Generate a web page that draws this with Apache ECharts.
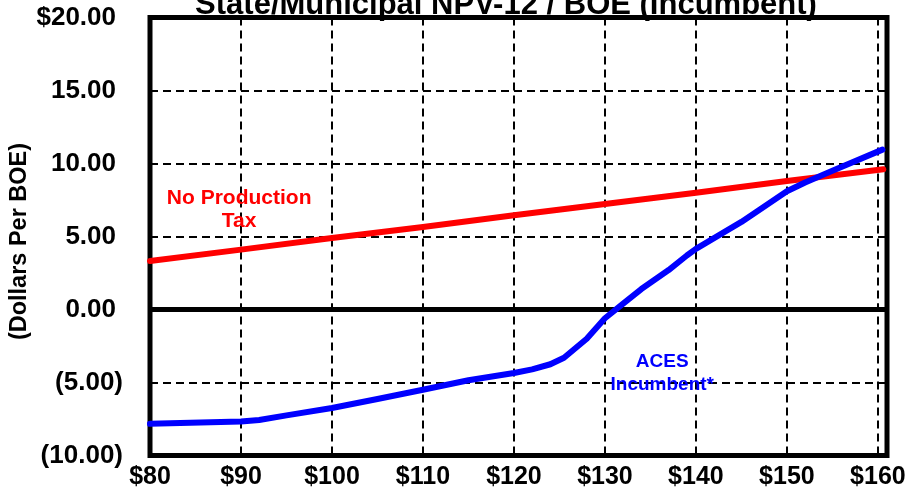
<!DOCTYPE html>
<html>
<head>
<meta charset="utf-8">
<script src="https://cdn.jsdelivr.net/npm/echarts@6/dist/echarts.min.js"></script>
<style>html,body{margin:0;padding:0;background:#fff;}#c{width:914px;height:492px;}</style>
</head>
<body>
<div id="c"></div>
<script>
var titleText = 'State/Municipal NPV-12 / BOE (Incumbent)';
var yAxisName = '(Dollars Per BOE)';
var noTaxLabel = 'No Production\nTax';
var acesLabel = 'ACES\nIncumbent*';

var noTaxPrice = [80, 90, 100, 110, 120, 130, 140, 150, 160.6];
var noTaxNPV   = [3.32, 4.1, 4.9, 5.65, 6.45, 7.22, 8.0, 8.8, 9.6];

var acesPrice = [80, 90, 92, 95, 100, 105, 110, 115, 120, 122, 124, 125.5, 128, 130, 132, 134, 137, 139, 140, 145, 150, 152, 155, 160.5];
var acesNPV   = [-7.83, -7.67, -7.57, -7.25, -6.75, -6.13, -5.5, -4.85, -4.35, -4.1, -3.75, -3.3, -2.0, -0.6, 0.4, 1.4, 2.7, 3.7, 4.15, 6.0, 8.1, 8.7, 9.5, 10.95];

var xMin = 80, xMax = 161, xStep = 10;
var yMin = -10, yMax = 20, yStep = 5;

function pairs(xs, ys) { return xs.map(function (x, i) { return [x, ys[i]]; }); }

var FONT = 'Arial, "Liberation Sans", sans-serif';
var chart = echarts.init(document.getElementById('c'), null, {renderer: 'canvas'});
chart.setOption({
  backgroundColor: '#fff',
  animation: false,
  title: {
    text: titleText, left: 501, top: -15, textAlign: 'center',
    textStyle: {fontFamily: FONT, fontWeight: 'bold', fontSize: 31, color: '#000'}
  },
  grid: {left: 150, right: 27, top: 17.5, bottom: 36.5, containLabel: false, outerBoundsMode: 'none',
         show: true, borderColor: '#000', borderWidth: 5, backgroundColor: 'transparent'},
  xAxis: {
    type: 'value', min: xMin, max: xMax, interval: xStep,
    axisLine: {show: false},
    axisTick: {show: true, inside: true, length: 6, lineStyle: {color: '#000', width: 2}},
    axisLabel: {
      showMaxLabel: false, margin: 9, color: '#000', fontFamily: FONT, fontWeight: 'bold', fontSize: 25,
      formatter: function (v) { return v % 10 === 0 ? '$' + v : ''; }
    },
    splitLine: {show: true, lineStyle: {color: '#000', width: 2, type: [8, 5]}}
  },
  yAxis: {
    type: 'value', min: yMin, max: yMax, interval: yStep,
    name: yAxisName, nameLocation: 'middle', nameRotate: 90, nameGap: 118, nameMoveOverlap: false,
    nameTextStyle: {fontFamily: FONT, fontWeight: 'bold', fontSize: 23.5, color: '#000', padding: [0, 10, 0, 0]},
    axisLine: {show: false},
    axisTick: {show: true, inside: true, length: 6, lineStyle: {color: '#000', width: 2}},
    axisLabel: {
      margin: 27, color: '#000', fontFamily: FONT, fontWeight: 'bold', fontSize: 26,
      formatter: function (v) {
        if (v < 0) return '(' + Math.abs(v).toFixed(2) + ')';
        if (v === yMax) return '{p|$' + v.toFixed(2) + '}';
        return '{p|' + v.toFixed(2) + '}';
      },
      rich: {p: {padding: [0, 7, 0, 0], fontFamily: FONT, fontWeight: 'bold', fontSize: 26, color: '#000'}}
    },
    splitLine: {show: true, lineStyle: {color: '#000', width: 2, type: [8, 5]}}
  },
  series: [
    {
      type: 'line', data: pairs(noTaxPrice, noTaxNPV), showSymbol: false, z: 5,
      lineStyle: {color: '#ff0000', width: 6, cap: 'round', join: 'round'},
      markLine: {
        silent: true, symbol: 'none', z: 3,
        lineStyle: {color: '#000', width: 5, type: 'solid'},
        label: {show: false},
        data: [{yAxis: 0}]
      },
      markPoint: {
        symbol: 'circle', symbolSize: 1, itemStyle: {color: 'rgba(0,0,0,0)'},
        label: {show: true, position: 'inside', formatter: noTaxLabel, color: '#ff0000', fontFamily: FONT, fontWeight: 'bold', fontSize: 21, lineHeight: 23, align: 'center'},
        data: [{coord: [89.8, 6.85]}]
      }
    },
    {
      type: 'line', data: pairs(acesPrice, acesNPV), showSymbol: false, z: 6,
      lineStyle: {color: '#0000ff', width: 6, cap: 'round', join: 'round'},
      markPoint: {
        symbol: 'circle', symbolSize: 1, itemStyle: {color: 'rgba(0,0,0,0)'},
        label: {show: true, position: 'inside', formatter: acesLabel, color: '#0000ff', fontFamily: FONT, fontWeight: 'bold', fontSize: 19, lineHeight: 23, align: 'center'},
        data: [{coord: [136.3, -4.38]}]
      }
    }
  ]
});
</script>
</body>
</html>
